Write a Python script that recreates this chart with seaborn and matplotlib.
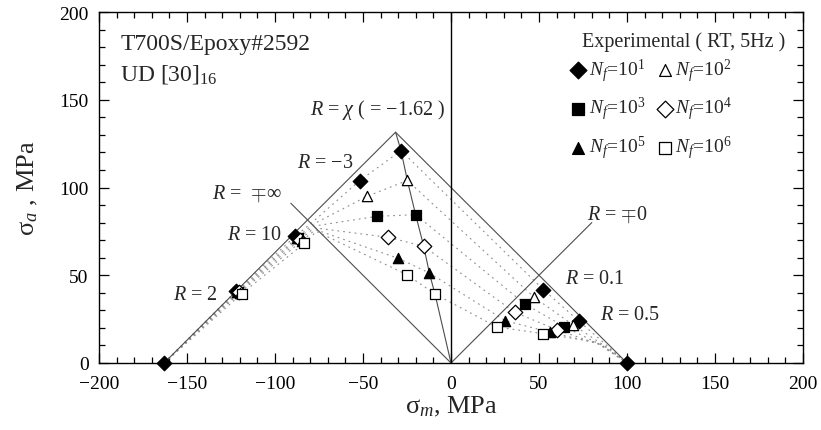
import numpy as np
import pandas as pd
import matplotlib
matplotlib.use("Agg")
import matplotlib.pyplot as plt
import seaborn as sns
from matplotlib.ticker import MultipleLocator

# ---------------- data ----------------
cycles = ["1", "2", "3", "4", "5", "6"]          # exponent of N_f
markers = ["D", "^", "s", "D", "^", "s"]
filled = [True, False, True, False, True, False]

# static strengths
static_sm = [-163.0, 100.0]
static_sa = [0.0, 0.0]
apex_sm, apex_sa = -31.5, 131.5                 # static point on R = chi

# R = chi (-1.62)
chi_sm = [-28.4, -24.8, -20.1, -15.5, -12.3, -9.1]
chi_sa = [121.0, 104.0, 84.5, 66.5, 51.3, 39.3]
# R = -3
m3_sm = [-51.9, -47.7, -41.9, -35.6, -29.9, -25.0]
m3_sa = [103.9, 95.0, 83.6, 71.6, 59.6, 50.3]
# R = 10
r10_sm = [-88.4, -87.4, -86.8, -85.9, -84.9, -83.3]
r10_sa = [72.3, 71.5, 71.0, 70.3, 69.5, 68.2]
# R = 2
r2_sm = [-122.4, -121.8, -121.2, -120.6, -120.0, -118.8]
r2_sa = [40.8, 40.6, 40.4, 40.2, 40.0, 39.6]
# R = 0.1
r01_sm = [52.5, 47.3, 42.0, 36.2, 30.9, 26.1]
r01_sa = [41.8, 37.4, 33.6, 28.9, 24.1, 20.5]
# R = 0.5
r05_sm = [72.9, 69.5, 64.4, 60.0, 56.3, 52.5]
r05_sa = [23.7, 21.6, 20.7, 19.0, 17.5, 16.7]

# bends of the predicted constant-life curves (dotted)
kneeL_sm = [-79.0, -78.5, -78.0, -77.5, -77.0, -76.5]
kneeL_sa = [80.0, 79.0, 78.0, 77.0, 76.0, 75.0]
kneeR_sm = [92.0, 90.0, 88.0, 86.0, 84.0, 82.0]
kneeR_sa = [7.0, 8.0, 9.0, 10.0, 11.0, 12.0]

# radial R-lines from the origin (end points)
rinf_end = (-91.0, 91.0)
r0_end = (80.0, 80.0)

# ---------------- style ----------------
sns.set_theme(style="ticks")
plt.rcParams["font.family"] = ["Liberation Serif", "DejaVu Serif"]
plt.rcParams["mathtext.fontset"] = "custom"
plt.rcParams["mathtext.rm"] = "Liberation Serif"
plt.rcParams["mathtext.it"] = "Liberation Serif:italic"
plt.rcParams["mathtext.bf"] = "Liberation Serif:bold"
plt.rcParams["axes.edgecolor"] = "black"
plt.rcParams["axes.linewidth"] = 1.0

fig = plt.figure(figsize=(8.21, 4.31), dpi=100)
ax = fig.add_axes([99 / 821, 1 - 364 / 431, 704 / 821, 351 / 431])

line_col = "#4d4d4d"
dot_col = "#8f8f8f"

# predicted constant-life curves (dotted)
for i in range(len(cycles)):
    xs = [static_sm[0], r2_sm[i], r10_sm[i], kneeL_sm[i], m3_sm[i], chi_sm[i],
          r01_sm[i], r05_sm[i], kneeR_sm[i], static_sm[1]]
    ys = [static_sa[0], r2_sa[i], r10_sa[i], kneeL_sa[i], m3_sa[i], chi_sa[i],
          r01_sa[i], r05_sa[i], kneeR_sa[i], static_sa[1]]
    sns.lineplot(x=xs, y=ys, sort=False, estimator=None, ax=ax, color=dot_col,
                 lw=0.8, linestyle=(0, (1.6, 3.6)))

# static envelope
sns.lineplot(x=[static_sm[0], apex_sm, static_sm[1]], y=[0, apex_sa, 0], sort=False,
             estimator=None, ax=ax, color=line_col, lw=0.8)
# radial lines
sns.lineplot(x=[0, rinf_end[0]], y=[0, rinf_end[1]], sort=False, estimator=None, ax=ax,
             color=line_col, lw=0.8)
sns.lineplot(x=[0, r0_end[0]], y=[0, r0_end[1]], sort=False, estimator=None, ax=ax,
             color=line_col, lw=0.8)
# R = chi line through data
sns.lineplot(x=[0] + chi_sm[::-1] + [apex_sm], y=[0] + chi_sa[::-1] + [apex_sa], sort=False,
             estimator=None, ax=ax, color=line_col, lw=0.8)
# vertical axis at sigma_m = 0
ax.axvline(0, color="black", lw=1.0)

# experimental points
ms = 55
for i in range(len(cycles)):
    xs = [chi_sm[i], m3_sm[i], r10_sm[i], r2_sm[i], r01_sm[i], r05_sm[i]]
    ys = [chi_sa[i], m3_sa[i], r10_sa[i], r2_sa[i], r01_sa[i], r05_sa[i]]
    fc = "black" if filled[i] else "white"
    sns.scatterplot(x=xs, y=ys, ax=ax, marker=markers[i], s=ms, color=fc,
                    edgecolor="black", linewidth=0.9, zorder=5,
                    label=r"$N_f$=10$^{%s}$" % cycles[i])
sns.scatterplot(x=static_sm, y=static_sa, ax=ax, marker="D", s=ms, color="black",
                edgecolor="black", linewidth=0.9, zorder=6, clip_on=False)

# axes
ax.set_xlim(-200, 200)
ax.set_ylim(0, 200)
ax.xaxis.set_major_locator(MultipleLocator(50))
ax.xaxis.set_minor_locator(MultipleLocator(10))
ax.yaxis.set_major_locator(MultipleLocator(50))
ax.yaxis.set_minor_locator(MultipleLocator(10))
ax.tick_params(which="both", direction="in", top=True, right=True, colors="black",
               labelsize=14, width=0.9)
ax.tick_params(which="major", length=7)
ax.tick_params(which="minor", length=4)
ax.tick_params(axis="x", which="major", pad=9)
ax.tick_params(axis="y", which="major", pad=7.5)
ax.set_xlabel(r"$\mathrm{\sigma}_m$, MPa", fontsize=19, labelpad=1)
ax.set_ylabel(r"$\mathrm{\sigma}_a$ , MPa", fontsize=19, labelpad=14)

# legend
h, l = ax.get_legend_handles_labels()
order = [0, 2, 4, 1, 3, 5]
leg = ax.legend([h[k] for k in order], [l[k] for k in order], ncol=2, frameon=False,
                loc="upper left", bbox_to_anchor=(0.667, 0.873), borderaxespad=0,
                borderpad=0, fontsize=14, handletextpad=0.05, columnspacing=0.5,
                labelspacing=0.6, handlelength=1.0, markerscale=1.15)

# texts
ax.text(-188, 179, "T700S/Epoxy#2592", fontsize=17, ha="left", va="baseline")
ax.text(-188, 161.8, r"UD [30]$_{16}$", fontsize=17, ha="left", va="baseline")
ax.text(190, 180.6, "Experimental ( RT, 5Hz )", fontsize=14.5, ha="right", va="baseline")

fs_r = 14.5
ax.text(-80, 144.7, r"$R$ = $\chi$ ( = −1.62 )", fontsize=fs_r, ha="left", va="center")
ax.text(-87.5, 114, r"$R$ = −3", fontsize=fs_r, ha="left", va="center")
ax.text(-136, 96.9, r"$R$ =  $\mp\infty$", fontsize=fs_r, ha="left", va="center")
ax.text(-127, 73, r"$R$ = 10", fontsize=fs_r, ha="left", va="center")
ax.text(-158, 39.3, r"$R$ = 2", fontsize=fs_r, ha="left", va="center")
ax.text(77.3, 84.9, r"$R$ = $\mp$0", fontsize=fs_r, ha="left", va="center")
ax.text(64.8, 47.9, r"$R$ = 0.1", fontsize=fs_r, ha="left", va="center")
ax.text(84.7, 27.4, r"$R$ = 0.5", fontsize=fs_r, ha="left", va="center")

fig.savefig("out.png", dpi=100)
